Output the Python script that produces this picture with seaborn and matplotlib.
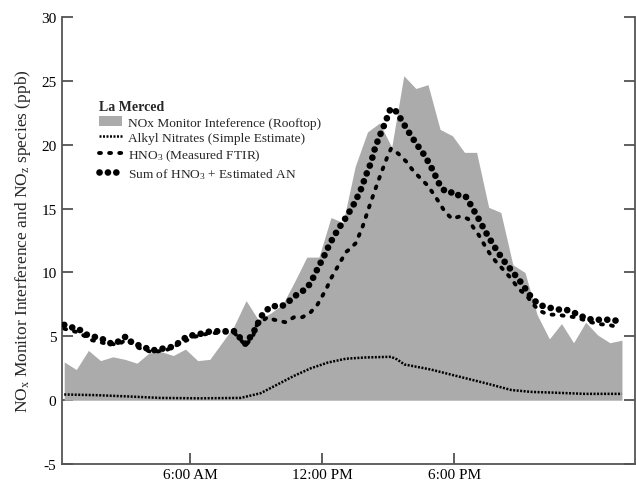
import numpy as np
import pandas as pd
import matplotlib
matplotlib.use("Agg")
import matplotlib.pyplot as plt
import matplotlib.patches as mpatches
from matplotlib.lines import Line2D
import seaborn as sns

# hours since midnight for the NOx interference trace
nox_hours = [0.26, 0.81, 1.36, 1.91, 2.47, 3.02, 3.57, 4.12, 4.67, 5.22,
             5.77, 6.33, 6.88, 7.43, 7.98, 8.53, 9.08, 9.63, 10.19, 10.74,
             11.29, 11.84, 12.39, 12.94, 13.49, 14.05, 14.60, 15.15, 15.70, 16.25,
             16.80, 17.35, 17.91, 18.46, 19.01, 19.56, 20.11, 20.66, 21.21, 21.76,
             22.32, 22.87, 23.42, 23.97, 24.52, 25.07, 25.62]
nox_interf = [3.0, 2.4, 3.9, 3.1, 3.4, 3.2, 2.9, 3.7, 3.8, 3.5,
              4.0, 3.1, 3.2, 4.5, 5.8, 7.8, 6.3, 6.8, 7.5, 9.3,
              11.2, 11.2, 14.3, 13.9, 18.3, 21.0, 21.7, 19.8, 25.4, 24.4,
              24.7, 21.2, 20.7, 19.4, 19.4, 15.1, 14.7, 10.6, 10.0, 6.7,
              4.8, 6.0, 4.5, 6.1, 5.1, 4.5, 4.7]

# alkyl nitrates (simple estimate)
an_hours = [0.26, 1.67, 3.13, 4.63, 6.46, 8.28, 9.19, 9.92, 10.70, 11.47,
            12.25, 13.07, 13.98, 15.12, 15.39, 15.73, 16.94, 17.86, 19.38, 20.59,
            21.51, 22.42, 23.92, 25.61]
an_vals = [0.45, 0.40, 0.30, 0.18, 0.15, 0.18, 0.55, 1.2, 1.9, 2.5,
           2.95, 3.25, 3.35, 3.4, 3.2, 2.8, 2.4, 2.0, 1.35, 0.8,
           0.65, 0.6, 0.5, 0.5]

# HNO3 measured by FTIR
hno3_hours = [0.26, 0.91, 1.52, 2.12, 2.73, 3.07, 3.64, 4.28, 4.94, 5.54,
              6.15, 6.76, 7.37, 7.98, 8.25, 8.51, 8.86, 8.97, 9.50, 9.80,
              10.33, 10.71, 11.09, 11.47, 11.78, 12.01, 12.20, 12.38, 12.61, 12.84,
              13.07, 13.22, 13.52, 13.83, 14.10, 14.36, 14.63, 14.94, 15.12, 15.45,
              15.80, 16.11, 16.44, 16.79, 17.07, 17.30, 17.55, 17.89, 18.27, 18.62,
              18.87, 19.12, 19.35, 19.60, 19.91, 20.29, 20.59, 20.93, 21.28, 21.58,
              21.88, 22.26, 22.65, 23.03, 23.48, 23.86, 24.23, 24.62, 25.03, 25.46]
hno3_vals = [5.6, 5.3, 4.7, 4.45, 4.35, 4.75, 4.1, 3.75, 3.95, 4.45,
             4.95, 5.2, 5.3, 5.3, 4.8, 4.25, 5.1, 5.8, 6.5, 6.3,
             6.1, 6.5, 6.5, 6.9, 7.5, 8.2, 8.8, 9.5, 10.2, 10.9,
             11.6, 11.8, 12.3, 13.6, 15.0, 16.3, 17.6, 19.0, 19.7, 19.3,
             18.7, 18.0, 17.4, 16.8, 16.1, 15.5, 14.8, 14.2, 14.4, 14.2,
             13.5, 12.9, 12.2, 11.5, 10.8, 10.1, 9.5, 8.7, 8.2, 7.5,
             7.0, 6.7, 6.7, 6.6, 6.5, 6.3, 6.1, 5.95, 5.9, 5.7]

# sum of HNO3 + estimated AN
sum_hours = [0.26, 0.61, 0.91, 1.17, 1.52, 1.82, 2.12, 2.43, 2.73, 3.07,
             3.34, 3.64, 3.95, 4.28, 4.60, 4.94, 5.24, 5.54, 5.85, 6.15,
             6.46, 6.76, 7.06, 7.37, 7.67, 7.98, 8.25, 8.51, 8.66, 8.86,
             9.04, 9.19, 9.42, 9.73, 10.03, 10.33, 10.64, 10.94, 11.25, 11.47,
             11.78, 12.08, 12.35, 12.72, 13.11, 13.48, 13.75, 13.98, 14.21, 14.40,
             14.63, 14.85, 15.09, 15.27, 15.50, 15.88, 16.26, 16.67, 17.02, 17.32,
             17.55, 17.78, 18.01, 18.31, 18.54, 18.74, 19.07, 19.41, 19.79, 20.21,
             20.67, 21.13, 21.35, 21.58, 21.84, 22.14, 22.45, 22.75, 23.06, 23.36,
             23.66, 23.97, 24.32, 24.62, 24.92, 25.23, 25.53]
sum_vals = [5.9, 5.7, 5.6, 5.2, 5.0, 4.9, 4.7, 4.4, 4.6, 5.0,
            4.5, 4.3, 4.1, 3.9, 4.0, 4.1, 4.2, 4.6, 5.0, 5.1,
            5.2, 5.35, 5.4, 5.4, 5.4, 5.4, 4.9, 4.4, 4.8, 5.3,
            5.9, 6.5, 7.0, 7.4, 7.3, 7.5, 8.0, 8.4, 8.7, 9.2,
            10.3, 11.3, 12.3, 13.4, 14.4, 15.5, 16.5, 17.6, 18.6, 19.8,
            20.8, 21.7, 22.8, 22.8, 22.2, 21.1, 20.1, 19.1, 18.0, 16.9,
            16.4, 16.4, 16.0, 16.1, 15.9, 15.3, 14.3, 13.2, 12.1, 11.0,
            10.0, 9.0, 8.4, 7.9, 7.5, 7.3, 7.2, 7.1, 7.1, 6.9,
            6.7, 6.4, 6.3, 6.3, 6.3, 6.3, 6.1]

tick_hours = [6, 12, 18]
tick_labels = ["6:00 AM", "12:00 PM", "6:00 PM"]

sns.set_style("ticks")
plt.rcParams["font.family"] = ["Liberation Serif", "DejaVu Serif"]
plt.rcParams["mathtext.fontset"] = "custom"
plt.rcParams["mathtext.rm"] = "Liberation Serif"
plt.rcParams["mathtext.it"] = "Liberation Serif:italic"

fig = plt.figure(figsize=(6.36, 4.85), dpi=100)
ax = fig.add_axes([0.0975, 0.041, 0.9005, 0.922])

grey = "#ababab"
ax.fill_between(nox_hours, 0, nox_interf, color=grey, linewidth=0, zorder=1)

sns.lineplot(x=an_hours, y=an_vals, ax=ax, color="black", linewidth=1.8,
             linestyle=(0, (0.8, 0.6)), zorder=3)
sns.lineplot(x=hno3_hours, y=hno3_vals, ax=ax, color="black", linewidth=2.8,
             linestyle=(0, (0.5, 2.1)), dash_capstyle="round", zorder=4)
sns.lineplot(x=sum_hours, y=sum_vals, ax=ax, color="black", linewidth=4.8,
             linestyle=(0, (0.01, 1.25)), dash_capstyle="round", zorder=5)

ax.set_xlim(0.16, 26.2)
ax.set_ylim(-5, 30)
ax.set_xticks(tick_hours)
ax.set_xticklabels(tick_labels)
ax.set_yticks([-5, 0, 5, 10, 15, 20, 25, 30])
ax.set_yticklabels(["-5", "0", "5", "10", "15", "20", "25", "30"])
ax.tick_params(axis="both", direction="in", length=8, width=1.2, color="#444444",
               labelsize=11, labelcolor="black")
ax.tick_params(axis="y", right=True, pad=4)
ax.tick_params(axis="x", pad=3)
for side in ["left", "right", "bottom"]:
    ax.spines[side].set_color("#555555")
    ax.spines[side].set_linewidth(1.3)
ax.spines["top"].set_visible(False)

ax.set_ylabel(r"NO$\mathregular{_x}$ Monitor Interference and NO$\mathregular{_z}$ species (ppb)",
              fontsize=12.5, labelpad=6)
ax.set_xlabel("")

handles = [
    mpatches.Patch(facecolor=grey, edgecolor="none"),
    Line2D([], [], color="black", linewidth=1.8, linestyle=(0, (0.8, 0.6))),
    Line2D([], [], color="black", linewidth=2.8, linestyle=(0, (0.5, 2.1)),
           dash_capstyle="round"),
    Line2D([], [], color="black", linewidth=4.8, linestyle=(0, (0.01, 1.25)),
           dash_capstyle="round"),
]
labels = [
    "NOx Monitor Inteference (Rooftop)",
    "Alkyl Nitrates (Simple Estimate)",
    r"HNO$_3$ (Measured FTIR)",
    r"Sum of HNO$_3$ + Estimated AN",
]
leg = ax.legend(handles, labels, title="La Merced", loc="upper left",
                bbox_to_anchor=(0.055, 0.826), frameon=False, fontsize=9.6,
                handlelength=1.7, handleheight=0.7, handletextpad=0.45,
                labelspacing=0.24, borderaxespad=0, alignment="left")
leg.get_title().set_fontweight("bold")
leg.get_title().set_fontsize(10)

fig.savefig("out.png", dpi=100)
